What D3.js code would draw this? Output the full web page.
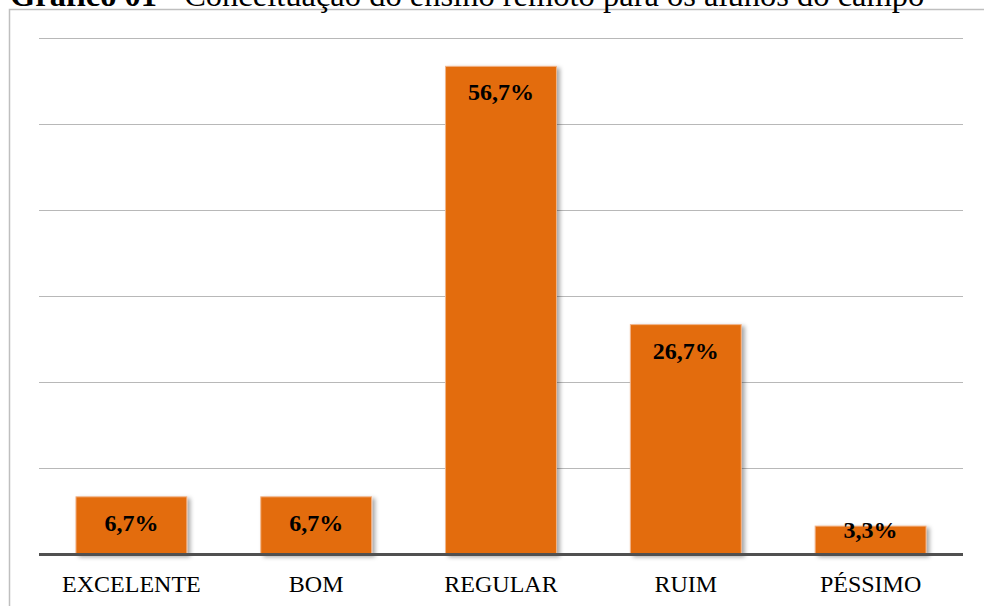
<!DOCTYPE html>
<html>
<head>
<meta charset="utf-8">
<script src="https://cdn.jsdelivr.net/npm/d3@7"></script>
<style>
  html, body { margin: 0; padding: 0; background: #fff; }
  svg { display: block; }
</style>
</head>
<body>
<svg id="chart" width="984" height="606"></svg>
<script>
const titleBold = "Gráfico 01 - ";
const titleRest = "Conceituação do ensino remoto para os alunos do campo";
const categories = ["EXCELENTE", "BOM", "REGULAR", "RUIM", "PÉSSIMO"];
const values = [6.7, 6.7, 56.7, 26.7, 3.3];
const valueLabels = ["6,7%", "6,7%", "56,7%", "26,7%", "3,3%"];
const gridTicks = [10, 20, 30, 40, 50, 60];

const svg = d3.select("#chart");
const serif = "'Liberation Serif', 'Times New Roman', serif";

const defs = svg.append("defs");
const f = defs.append("filter").attr("id", "shadow")
  .attr("x", "-20%").attr("y", "-20%").attr("width", "150%").attr("height", "150%");
f.append("feDropShadow").attr("dx", 3).attr("dy", 2).attr("stdDeviation", 2)
  .attr("flood-color", "#000").attr("flood-opacity", 0.35);

// frame
svg.append("rect").attr("x", 9.5).attr("y", 9.5).attr("width", 1100).attr("height", 800)
  .attr("fill", "none").attr("stroke", "#bfbfbf").attr("stroke-width", 1.5);

// title (cut at top, as in the reference)
const t = svg.append("text").attr("x", 10).attr("y", 6)
  .attr("font-family", serif).attr("font-size", 32.5).attr("fill", "#000");
t.append("tspan").attr("font-weight", "bold").text(titleBold);
t.append("tspan").text(titleRest);

const x = d3.scaleBand().domain(categories).range([39, 963]).paddingInner(0.4).paddingOuter(0.2);
const y = d3.scaleLinear().domain([0, 60]).range([554.5, 37.9]);

// gridlines
svg.append("g").selectAll("line").data(gridTicks).join("line")
  .attr("x1", 39).attr("x2", 963)
  .attr("y1", d => Math.round(y(d)) + 0.5).attr("y2", d => Math.round(y(d)) + 0.5)
  .attr("stroke", "#b8b8b8").attr("stroke-width", 1.2);

// bars
const data = categories.map((c, i) => ({c, v: values[i], l: valueLabels[i]}));
svg.append("g").selectAll("rect").data(data).join("rect")
  .attr("x", d => x(d.c)).attr("width", x.bandwidth())
  .attr("y", d => y(d.v)).attr("height", d => y(0) - y(d.v))
  .attr("fill", "#e36c0a").attr("stroke", "#f2b48a").attr("stroke-width", 1)
  .attr("filter", "url(#shadow)");

// axis line
svg.append("line").attr("x1", 39).attr("x2", 963).attr("y1", y(0)).attr("y2", y(0))
  .attr("stroke", "#505050").attr("stroke-width", 3);

// value labels
svg.append("g").selectAll("text").data(data).join("text")
  .attr("x", d => x(d.c) + x.bandwidth() / 2)
  .attr("y", d => (y(0) - y(d.v) > 50) ? y(d.v) + 34 : y(d.v) + 11.5)
  .attr("text-anchor", "middle")
  .attr("font-family", serif).attr("font-weight", "bold").attr("font-size", 24)
  .attr("fill", "#000").text(d => d.l);

// category labels
svg.append("g").selectAll("text").data(categories).join("text")
  .attr("x", d => x(d) + x.bandwidth() / 2).attr("y", 592)
  .attr("text-anchor", "middle")
  .attr("font-family", serif).attr("font-size", 24).attr("fill", "#000")
  .text(d => d);
</script>
</body>
</html>
